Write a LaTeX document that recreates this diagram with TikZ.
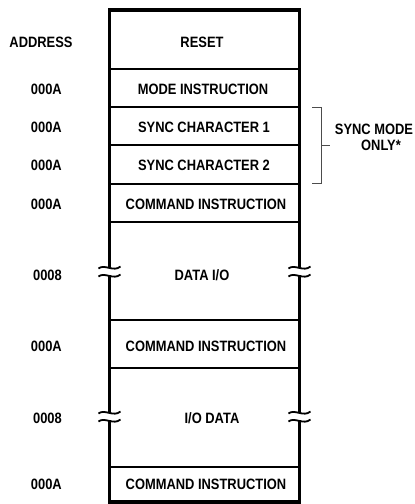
\documentclass[tikz,border=0pt]{standalone}
\usepackage{fontspec}
\setmainfont{Liberation Sans}[FakeStretch=0.86]
\begin{document}
\begin{tikzpicture}[x=1pt,y=-1pt,
  frame/.style={line width=3.5pt},
  divider/.style={line width=1.8pt},
  bracketline/.style={line width=0.8pt, black!70},
  lbl/.style={font=\fontsize{15}{17}\selectfont\bfseries, inner sep=0pt, anchor=center},
  addr/.style={lbl, anchor=east},
  brkmark/.pic={
    \draw[line width=1.8pt] (-11,-3) .. controls (-5,-8) and (4,1) .. (11,-5);
    \draw[line width=1.8pt] (-11,5) .. controls (-5,0) and (4,9) .. (11,3);
  }]
\useasboundingbox (0,0) rectangle (415,504);
% coordinates of frame
\coordinate (tl) at (109.5,10);
\coordinate (tr) at (299.5,10);
\coordinate (bl) at (109.5,502);
\coordinate (br) at (299.5,502);
% dividers
\foreach \y in {69,107,145,184,222,320,368,467}
  \draw[divider] (109.5,\y) -- (299.5,\y);
% frame
\draw[frame] (109.5,268) -- (tl) -- (tr) -- (299.5,268);
\draw[frame] (109.5,275) -- (109.5,413);
\draw[frame] (299.5,275) -- (299.5,413);
\draw[frame] (109.5,420) -- (bl) -- (br) -- (299.5,420);
% break marks
\pic at (109.5,271.5) {brkmark};
\pic at (299.5,271.5) {brkmark};
\pic at (109.5,416.5) {brkmark};
\pic at (299.5,416.5) {brkmark};
% box texts
\node[lbl] (reset) at (202,42) {RESET};
\node[lbl] (mode) at (203,89) {MODE INSTRUCTION};
\node[lbl] (sync1) at (204,127) {SYNC CHARACTER 1};
\node[lbl] (sync2) at (204,165) {SYNC CHARACTER 2};
\node[lbl] (cmd1) at (206,204) {COMMAND INSTRUCTION};
\node[lbl] (dataio) at (202,275) {DATA I/O};
\node[lbl] (cmd2) at (206,346) {COMMAND INSTRUCTION};
\node[lbl] (iodata) at (212,418) {I/O DATA};
\node[lbl] (cmd3) at (206,484) {COMMAND INSTRUCTION};
% addresses
\node[lbl] (address) at (41,42) {ADDRESS};
\node[addr] (a1) at (62,89) {000A};
\node[addr] (a2) at (62,127) {000A};
\node[addr] (a3) at (62,165) {000A};
\node[addr] (a4) at (62,204) {000A};
\node[addr] (a5) at (62,275) {0008};
\node[addr] (a6) at (62,346) {000A};
\node[addr] (a7) at (62,418) {0008};
\node[addr] (a8) at (62,484) {000A};
% bracket
\coordinate (bt) at (321,107);
\coordinate (bb) at (321,183);
\coordinate (bm) at (321,145);
\draw[bracketline] (312,107) -- (bt) -- (bb) -- (312,183);
\draw[bracketline] (bm) -- (330,145);
\node[lbl] (syncmode) at (374,129) {SYNC MODE};
\node[lbl] (only) at (381,145) {ONLY*};
\end{tikzpicture}
\end{document}
